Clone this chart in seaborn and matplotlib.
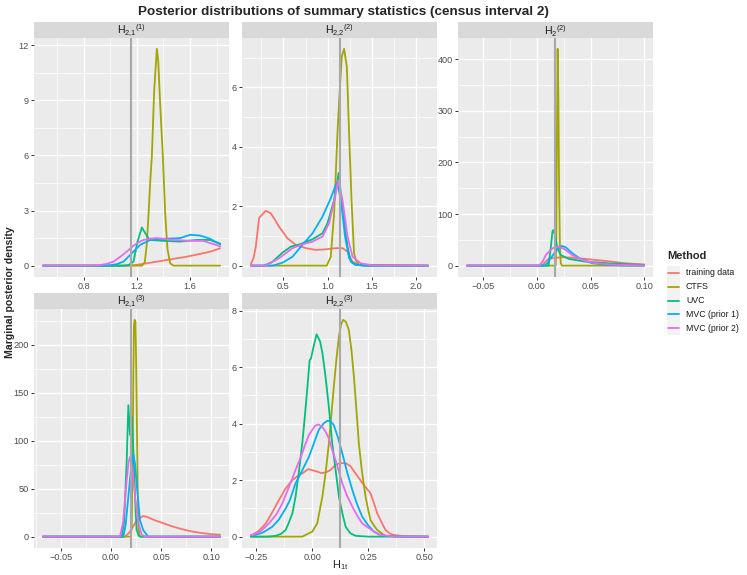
import numpy as np
import pandas as pd
import matplotlib
matplotlib.use("Agg")
import matplotlib.pyplot as plt
import seaborn as sns
from matplotlib.patches import Rectangle
from matplotlib.lines import Line2D
from matplotlib.ticker import FixedLocator

# methods / colours (ggplot default hue palette)
methods = ["training data", "CTFS", "UVC", "MVC (prior 1)", "MVC (prior 2)"]
method_colors = ["#F8766D", "#A3A500", "#00BF7D", "#00B0F6", "#E76BF3"]

# ---- panel 1 : H_{2,1}^{(1)} ----
p1_train_x = [0.495, 1.10, 1.175, 1.276, 1.426, 1.576, 1.70, 1.76, 1.825]
p1_train_y = [0, 0, 0.02, 0.13, 0.31, 0.49, 0.68, 0.78, 0.95]
p1_ctfs_x = [0.495, 1.24, 1.26, 1.275, 1.288, 1.30, 1.313, 1.33, 1.35, 1.36, 1.375, 1.395, 1.413, 1.43, 1.45, 1.475, 1.825]
p1_ctfs_y = [0, 0, 0.2, 1.2, 2.8, 4.5, 6.0, 9.5, 11.8, 11.2, 8.8, 6.0, 2.8, 0.9, 0.13, 0, 0]
p1_uvc_x = [0.495, 1.10, 1.138, 1.175, 1.205, 1.238, 1.263, 1.295, 1.40, 1.525, 1.65, 1.75, 1.825]
p1_uvc_y = [0, 0, 0.03, 0.22, 1.31, 2.08, 1.77, 1.40, 1.35, 1.31, 1.40, 1.40, 1.20]
p1_mvc1_x = [0.495, 0.95, 1.0, 1.05, 1.10, 1.163, 1.225, 1.30, 1.40, 1.525, 1.60, 1.675, 1.75, 1.825]
p1_mvc1_y = [0, 0, 0.02, 0.08, 0.22, 0.68, 1.13, 1.40, 1.46, 1.50, 1.68, 1.64, 1.46, 1.15]
p1_mvc2_x = [0.495, 0.85, 0.925, 0.975, 1.025, 1.06, 1.10, 1.14, 1.175, 1.21, 1.25, 1.30, 1.35, 1.475, 1.60, 1.70, 1.825]
p1_mvc2_y = [0, 0, 0.03, 0.1, 0.22, 0.4, 0.62, 0.86, 1.09, 1.26, 1.40, 1.47, 1.50, 1.40, 1.35, 1.35, 1.05]
p1_true = 1.155

# ---- panel 2 : H_{2,2}^{(2)} ----
p2_train_x = [0.13, 0.16, 0.186, 0.223, 0.243, 0.30, 0.356, 0.40, 0.45, 0.545, 0.64, 0.753, 0.866, 0.98, 1.093, 1.169, 1.226, 1.28, 1.376, 1.50, 2.14]
p2_train_y = [0.05, 0.25, 0.64, 1.60, 1.67, 1.85, 1.76, 1.56, 1.31, 0.92, 0.70, 0.59, 0.53, 0.55, 0.59, 0.59, 0.47, 0.13, 0.02, 0, 0]
p2_ctfs_x = [0.13, 0.99, 1.036, 1.074, 1.112, 1.142, 1.161, 1.187, 1.218, 1.244, 1.271, 1.30, 1.32, 1.357, 2.14]
p2_ctfs_y = [0, 0, 0.3, 1.76, 4.46, 6.14, 7.04, 7.30, 6.70, 4.46, 2.21, 0.42, 0.19, 0.03, 0]
p2_uvc_x = [0.13, 0.28, 0.375, 0.489, 0.583, 0.696, 0.829, 0.942, 0.999, 1.074, 1.125, 1.17, 1.226, 1.263, 1.32, 1.45, 2.14]
p2_uvc_y = [0, 0, 0.13, 0.44, 0.64, 0.73, 0.89, 1.09, 1.43, 2.21, 3.12, 1.90, 0.64, 0.13, 0.02, 0, 0]
p2_mvc1_x = [0.13, 0.375, 0.489, 0.602, 0.715, 0.829, 0.942, 1.036, 1.093, 1.112, 1.15, 1.198, 1.244, 1.30, 1.40, 2.14]
p2_mvc1_y = [0, 0, 0.10, 0.30, 0.70, 1.09, 1.65, 2.27, 2.72, 2.77, 2.21, 0.98, 0.25, 0.05, 0, 0]
p2_mvc2_x = [0.13, 0.30, 0.45, 0.602, 0.696, 0.829, 0.942, 1.017, 1.085, 1.12, 1.169, 1.226, 1.283, 1.376, 1.51, 2.14]
p2_mvc2_y = [0, 0, 0.25, 0.59, 0.70, 0.81, 0.98, 1.43, 2.32, 2.88, 2.21, 0.98, 0.30, 0.08, 0.01, 0]
p2_true = 1.138

# ---- panel 3 : H_2^{(2)} ----
p3_train_x = [-0.0648, 0.002, 0.0054, 0.0085, 0.0115, 0.0238, 0.0330, 0.0454, 0.0638, 0.0823, 0.0976, 0.0997]
p3_train_y = [0, 0, 1.4, 8, 14.3, 16.2, 15.5, 13.0, 9.1, 4.6, 2.7, 2.5]
p3_ctfs_x = [-0.0648, 0.0176, 0.0182, 0.0188, 0.0194, 0.0201, 0.0208, 0.0215, 0.0223, 0.0235, 0.0997]
p3_ctfs_y = [0, 0, 60, 250, 420, 330, 150, 40, 5, 0, 0]
p3_uvc_x = [-0.0648, 0.0110, 0.0130, 0.0146, 0.0155, 0.0171, 0.0192, 0.0223, 0.0300, 0.0454, 0.0669, 0.0976, 0.0997]
p3_uvc_y = [0, 0, 33.6, 66, 69, 59.5, 33.6, 20.7, 13.0, 7.8, 4.6, 1.4, 1.3]
p3_mvc1_x = [-0.0648, 0.0069, 0.0100, 0.0130, 0.0192, 0.0232, 0.0269, 0.0330, 0.0408, 0.0515, 0.0669, 0.0800, 0.0997]
p3_mvc1_y = [0, 0, 5, 14.3, 32.4, 38.2, 35.7, 24.0, 13.0, 4.6, 1.4, 0.3, 0]
p3_mvc2_x = [-0.0648, 0.0023, 0.0055, 0.0085, 0.0146, 0.0201, 0.0254, 0.0330, 0.0423, 0.0546, 0.0761, 0.0976, 0.0997]
p3_mvc2_y = [0, 0, 8, 20.7, 33.6, 36.8, 32.4, 20.7, 11.0, 4.6, 1.4, 0.3, 0.3]
p3_true = 0.0172

# ---- panel 4 : H_{2,1}^{(3)} ----
p4_train_x = [-0.0679, 0.0139, 0.018, 0.0239, 0.028, 0.032, 0.036, 0.0437, 0.050, 0.060, 0.070, 0.080, 0.090, 0.100, 0.1086]
p4_train_y = [0, 0, 4, 14, 19, 21.5, 20.5, 17, 14.8, 11, 8.0, 5.5, 3.8, 2.6, 2.0]
p4_ctfs_x = [-0.0679, 0.0195, 0.0205, 0.0215, 0.0222, 0.0228, 0.0235, 0.0243, 0.0250, 0.0258, 0.0265, 0.0272, 0.0280, 0.0290, 0.1086]
p4_ctfs_y = [0, 0, 10, 80, 170, 220, 226, 224, 180, 110, 50, 12, 2, 0, 0]
p4_uvc_x = [-0.0679, 0.0106, 0.0130, 0.0156, 0.0172, 0.0189, 0.0206, 0.0220, 0.0232, 0.0245, 0.0255, 0.0275, 0.0290, 0.1086]
p4_uvc_y = [0, 0, 15, 80, 137, 106, 125, 95, 62, 25, 7, 1, 0, 0]
p4_mvc1_x = [-0.0679, 0.0122, 0.0145, 0.0172, 0.0200, 0.0222, 0.0240, 0.0255, 0.0288, 0.0320, 0.0368, 0.1086]
p4_mvc1_y = [0, 0, 12, 41.6, 72, 86, 75, 55, 17, 7, 0, 0]
p4_mvc2_x = [-0.0679, 0.0089, 0.0120, 0.0156, 0.0175, 0.0189, 0.0210, 0.0239, 0.0272, 0.0305, 0.0340, 0.1086]
p4_mvc2_y = [0, 0, 15, 59, 78, 83, 72, 41.6, 14, 2, 0, 0]
p4_true = 0.0200

# ---- panel 5 : H_{2,2}^{(3)} ----
p5_train_x = [-0.275, -0.268, -0.24, -0.208, -0.18, -0.149, -0.12, -0.089, -0.065, -0.045, -0.018, 0.022, 0.04, 0.059, 0.08, 0.104, 0.125, 0.149, 0.17, 0.193, 0.21, 0.23, 0.26, 0.275, 0.29, 0.31, 0.327, 0.345, 0.364, 0.42, 0.518]
p5_train_y = [0.05, 0.07, 0.2, 0.47, 0.85, 1.30, 1.7, 2.00, 2.15, 2.24, 2.39, 2.30, 2.25, 2.27, 2.35, 2.54, 2.6, 2.60, 2.5, 2.24, 2.05, 1.83, 1.54, 1.2, 0.83, 0.5, 0.24, 0.12, 0.06, 0.01, 0]
p5_ctfs_x = [-0.275, -0.045, 0.0, 0.022, 0.045, 0.06, 0.074, 0.085, 0.096, 0.108, 0.119, 0.128, 0.138, 0.15, 0.163, 0.175, 0.186, 0.197, 0.208, 0.222, 0.238, 0.25, 0.26, 0.275, 0.29, 0.327, 0.518]
p5_ctfs_y = [0, 0, 0.18, 0.47, 1.42, 2.3, 3.3, 4.3, 5.3, 6.3, 7.08, 7.5, 7.67, 7.6, 7.32, 6.6, 5.66, 4.5, 3.3, 2.3, 1.42, 0.95, 0.59, 0.4, 0.24, 0.02, 0]
p5_uvc_x = [-0.275, -0.2, -0.164, -0.14, -0.119, -0.105, -0.089, -0.075, -0.06, -0.045, -0.033, -0.022, -0.012, -0.006, 0.005, 0.019, 0.035, 0.045, 0.059, 0.075, 0.089, 0.105, 0.119, 0.135, 0.149, 0.17, 0.193, 0.25, 0.518]
p5_uvc_y = [0, 0, 0.03, 0.1, 0.24, 0.5, 0.83, 1.42, 2.3, 3.3, 4.3, 5.3, 6.25, 6.3, 6.7, 7.16, 6.9, 6.5, 5.66, 4.5, 3.3, 2.3, 1.42, 0.8, 0.35, 0.12, 0.03, 0, 0]
p5_mvc1_x = [-0.275, -0.268, -0.22, -0.179, -0.15, -0.119, -0.1, -0.075, -0.045, -0.015, 0.029, 0.05, 0.067, 0.082, 0.096, 0.115, 0.134, 0.155, 0.179, 0.2, 0.223, 0.25, 0.275, 0.3, 0.327, 0.40, 0.518]
p5_mvc1_y = [0.03, 0.03, 0.15, 0.35, 0.6, 1.0, 1.3, 1.89, 2.35, 2.83, 3.78, 4.0, 4.10, 4.08, 3.95, 3.5, 2.95, 2.3, 1.65, 1.15, 0.71, 0.4, 0.18, 0.08, 0.03, 0, 0]
p5_mvc2_x = [-0.275, -0.268, -0.23, -0.194, -0.16, -0.134, -0.105, -0.075, -0.05, -0.03, -0.015, 0.0, 0.012, 0.027, 0.045, 0.059, 0.075, 0.089, 0.11, 0.134, 0.155, 0.179, 0.2, 0.223, 0.253, 0.297, 0.36, 0.518]
p5_mvc2_y = [0.05, 0.05, 0.2, 0.47, 0.8, 1.18, 1.75, 2.36, 2.85, 3.3, 3.6, 3.78, 3.92, 3.97, 3.88, 3.72, 3.45, 3.07, 2.55, 1.89, 1.45, 1.06, 0.75, 0.47, 0.3, 0.07, 0.01, 0]
p5_true = 0.123

# tick positions / labels
p1_xticks, p1_xlabels = [0.8, 1.2, 1.6], ["0.8", "1.2", "1.6"]
p1_yticks = [0, 3, 6, 9, 12]
p2_xticks, p2_xlabels = [0.5, 1.0, 1.5, 2.0], ["0.5", "1.0", "1.5", "2.0"]
p2_yticks = [0, 2, 4, 6]
p3_xticks, p3_xlabels = [-0.05, 0.0, 0.05, 0.10], ["\u22120.05", "0.00", "0.05", "0.10"]
p3_yticks = [0, 100, 200, 300, 400]
p4_xticks, p4_xlabels = [-0.05, 0.0, 0.05, 0.10], ["\u22120.05", "0.00", "0.05", "0.10"]
p4_yticks = [0, 50, 100, 150, 200]
p5_xticks, p5_xlabels = [-0.25, 0.0, 0.25, 0.50], ["\u22120.25", "0.00", "0.25", "0.50"]
p5_yticks = [0, 2, 4, 6, 8]

sns.set_theme(style="darkgrid")
plt.rcParams["font.family"] = ["Liberation Sans", "DejaVu Sans"]
plt.rcParams["mathtext.fontset"] = "custom"
plt.rcParams["mathtext.rm"] = "Liberation Sans"

W, H = 747, 575
fig = plt.figure(figsize=(W / 100, H / 100), dpi=100)
fig.patch.set_facecolor("white")


def px_box(left, top, w, h):
    return [left / W, 1 - (top + h) / H, w / W, h / H]


def make_df(curves):
    frames = []
    for m, (xs, ys) in zip(methods, curves):
        frames.append(pd.DataFrame({"x": xs, "y": ys, "Method": m}))
    return pd.concat(frames, ignore_index=True)


panels = [
    (r"$\mathregular{H_{2{,}1}{}^{(1)}}$", (34, 38),
     [(p1_train_x, p1_train_y), (p1_ctfs_x, p1_ctfs_y), (p1_uvc_x, p1_uvc_y),
      (p1_mvc1_x, p1_mvc1_y), (p1_mvc2_x, p1_mvc2_y)],
     p1_true, p1_xticks, p1_xlabels, p1_yticks),
    (r"$\mathregular{H_{2{,}2}{}^{(2)}}$", (242, 38),
     [(p2_train_x, p2_train_y), (p2_ctfs_x, p2_ctfs_y), (p2_uvc_x, p2_uvc_y),
      (p2_mvc1_x, p2_mvc1_y), (p2_mvc2_x, p2_mvc2_y)],
     p2_true, p2_xticks, p2_xlabels, p2_yticks),
    (r"$\mathregular{H_{2}{}^{(2)}}$", (458, 38),
     [(p3_train_x, p3_train_y), (p3_ctfs_x, p3_ctfs_y), (p3_uvc_x, p3_uvc_y),
      (p3_mvc1_x, p3_mvc1_y), (p3_mvc2_x, p3_mvc2_y)],
     p3_true, p3_xticks, p3_xlabels, p3_yticks),
    (r"$\mathregular{H_{2{,}1}{}^{(3)}}$", (34, 309),
     [(p4_train_x, p4_train_y), (p4_ctfs_x, p4_ctfs_y), (p4_uvc_x, p4_uvc_y),
      (p4_mvc1_x, p4_mvc1_y), (p4_mvc2_x, p4_mvc2_y)],
     p4_true, p4_xticks, p4_xlabels, p4_yticks),
    (r"$\mathregular{H_{2{,}2}{}^{(3)}}$", (242, 309),
     [(p5_train_x, p5_train_y), (p5_ctfs_x, p5_ctfs_y), (p5_uvc_x, p5_uvc_y),
      (p5_mvc1_x, p5_mvc1_y), (p5_mvc2_x, p5_mvc2_y)],
     p5_true, p5_xticks, p5_xlabels, p5_yticks),
]

PW, PH, SH = 195, 238.5, 16

for label, (left, top), curves, vline, xt, xl, yt in panels:
    ax = fig.add_axes(px_box(left, top, PW, PH))
    df = make_df(curves)
    sns.lineplot(data=df, x="x", y="y", hue="Method", hue_order=methods,
                 palette=method_colors, estimator=None, sort=False,
                 linewidth=1.3, legend=False, ax=ax)
    ax.axvline(vline, color="#A8A8A8", lw=1.5, zorder=5)

    # ggplot-like 5% expansion
    x0, x1 = df["x"].min(), df["x"].max()
    y0, y1 = 0, df["y"].max()
    dx, dy = (x1 - x0) * 0.05, (y1 - y0) * 0.05
    ax.set_xlim(x0 - dx, x1 + dx)
    ax.set_ylim(y0 - dy, y1 + dy)

    ax.xaxis.set_major_locator(FixedLocator(xt))
    ax.set_xticklabels(xl)
    ax.yaxis.set_major_locator(FixedLocator(yt))
    ax.set_yticklabels([str(v) for v in yt])
    xs_minor = [(a + b) / 2 for a, b in zip(xt[:-1], xt[1:])]
    xs_minor = [xt[0] - (xt[1] - xt[0]) / 2] + xs_minor + [xt[-1] + (xt[1] - xt[0]) / 2]
    ys_minor = [(a + b) / 2 for a, b in zip(yt[:-1], yt[1:])] + [yt[-1] + (yt[1] - yt[0]) / 2]
    ax.xaxis.set_minor_locator(FixedLocator(xs_minor))
    ax.yaxis.set_minor_locator(FixedLocator(ys_minor))

    ax.set_facecolor("#EBEBEB")
    ax.grid(which="major", color="white", lw=1.0)
    ax.grid(which="minor", color="white", lw=0.5)
    ax.set_axisbelow(True)
    for s in ax.spines.values():
        s.set_visible(False)
    ax.tick_params(which="major", length=2.2, width=0.7, color="#333333",
                   labelsize=6.6, labelcolor="#4D4D4D", pad=1.5,
                   bottom=True, left=True)
    ax.tick_params(which="minor", length=0)
    ax.set_xlabel("")
    ax.set_ylabel("")

    # facet strip
    sax = fig.add_axes(px_box(left, top - SH, PW, SH))
    sax.set_facecolor("#D9D9D9")
    sax.set_xticks([])
    sax.set_yticks([])
    for s in sax.spines.values():
        s.set_visible(False)
    sax.text(0.5, 0.42, label, ha="center", va="center", fontsize=7.6,
             color="#1A1A1A", transform=sax.transAxes)

# titles
fig.text(343.5 / W, 1 - 14.7 / H,
         "Posterior distributions of summary statistics (census interval 2)",
         ha="center", va="baseline", fontsize=9.7, fontweight="bold")
fig.text(10 / W, 1 - 292 / H, "Marginal posterior density", rotation=90,
         ha="center", va="center", fontsize=7.6, fontweight="bold")
fig.text(340.5 / W, 1 - 565 / H, r"$\mathregular{H_{1t}}$", ha="center",
         va="center", fontsize=7.9)

# legend drawn in pixel units
lax = fig.add_axes(px_box(660, 245, 87, 95))
lax.set_xlim(660, 747)
lax.set_ylim(340, 245)
lax.axis("off")
lax.text(667, 256, "Method", ha="left", va="center", fontsize=7.9,
         fontweight="bold")
row_h = 13.9
for i, (m, c) in enumerate(zip(methods, method_colors)):
    yc = 272.8 + i * row_h
    lax.add_patch(Rectangle((666.7, yc - row_h / 2), 13.5, row_h,
                            facecolor="#F2F2F2", edgecolor="none"))
    lax.add_line(Line2D([668, 679], [yc, yc], color=c, lw=1.3))
    lax.text(686, yc, m, ha="left", va="center", fontsize=6.3, color="#1A1A1A")

fig.savefig("out.png", dpi=100)
